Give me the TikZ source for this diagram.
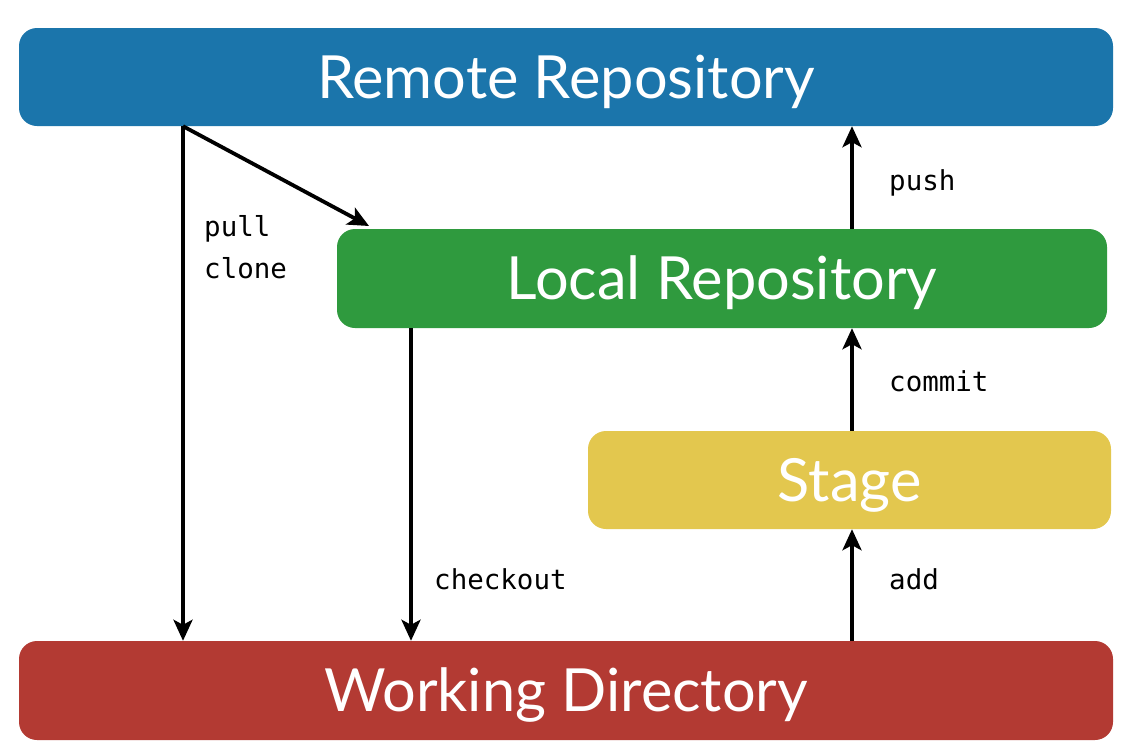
\documentclass[tikz,border=0pt]{standalone}
\usepackage{fontspec}
\setmainfont{Lato}
\newfontfamily\labelfont{DejaVu Sans Mono}
\usetikzlibrary{arrows.meta}
\definecolor{cblue}{HTML}{1B75AB}
\definecolor{cgreen}{HTML}{2F9A3E}
\definecolor{cyellow}{HTML}{E3C74E}
\definecolor{cred}{HTML}{B33A33}
\begin{document}
\begin{tikzpicture}[x=1pt,y=-1pt,
  box/.style={rounded corners=18pt, inner sep=0pt, text=white,
    font=\fontsize{59.5}{66}\selectfont, text height=42.6pt, text depth=0pt},
  arr/.style={line width=3.8pt, -{Stealth[length=21pt,width=19pt,inset=5pt]}},
  lbl/.style={font=\labelfont\fontsize{27.5}{32}\selectfont, anchor=west, inner sep=0pt}]
\useasboundingbox (0,0) rectangle (1130,755);
\node[box, fill=cblue, minimum width=1094pt, minimum height=98pt] (remote) at (566,77) {Remote Repository};
\node[box, fill=cgreen, minimum width=770pt, minimum height=99pt] (local) at (722,278.5) {Local Repository};
\node[box, fill=cyellow, minimum width=523pt, minimum height=98pt] (stage) at (849.5,480) {Stage};
\node[box, fill=cred, minimum width=1094pt, minimum height=99pt] (work) at (566,690.5) {Working Directory};
\coordinate (xa) at (183,0);
\coordinate (xb) at (411,0);
\coordinate (xc) at (852,0);
\coordinate (diagend) at (369,226);
\draw[arr] (remote.south -| xa) -- (work.north -| xa);
\draw[arr] (remote.south -| xa) -- (diagend);
\draw[arr] (local.south -| xb) -- (work.north -| xb);
\draw[arr] (local.north -| xc) -- (remote.south -| xc);
\draw[arr] (stage.north -| xc) -- (local.south -| xc);
\draw[arr] (work.north -| xc) -- (stage.south -| xc);
\node[lbl] (lpull) at (204,229) {pull};
\node[lbl] (lclone) at (204,268) {clone};
\node[lbl] (lpush) at (889,183) {push};
\node[lbl] (lcommit) at (889,381) {commit};
\node[lbl] (lcheckout) at (434,579) {checkout};
\node[lbl] (ladd) at (889,579) {add};
\end{tikzpicture}
\end{document}
